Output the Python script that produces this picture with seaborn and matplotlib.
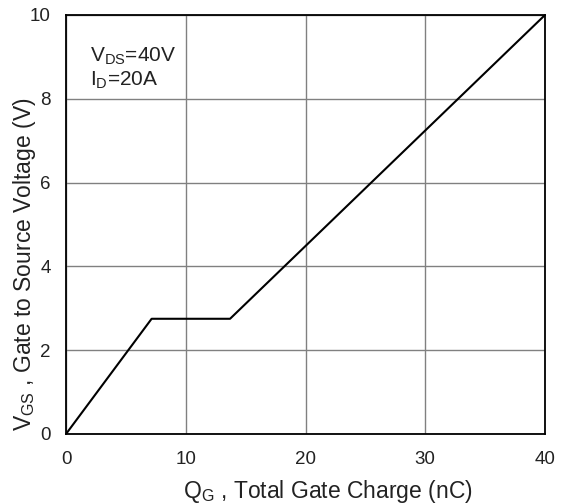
import matplotlib
matplotlib.use("Agg")
import matplotlib.pyplot as plt
import seaborn as sns
import pandas as pd

qg = [0, 7.15, 13.7, 40]
vgs = [0, 2.75, 2.75, 10]
xticks = [0, 10, 20, 30, 40]
yticks = [0, 2, 4, 6, 8, 10]

sns.set_theme(style="white")
plt.rcParams['font.family'] = ['Liberation Sans', 'DejaVu Sans']
plt.rcParams['mathtext.fontset'] = 'custom'
plt.rcParams['mathtext.rm'] = 'Liberation Sans'
plt.rcParams['mathtext.it'] = 'Liberation Sans'

fig = plt.figure(figsize=(5.66, 5.04), dpi=100)
ax = fig.add_axes([66/566, 70/504, 479/566, 419/504])

df = pd.DataFrame({"qg": qg, "vgs": vgs})
sns.lineplot(data=df, x="qg", y="vgs", ax=ax, color="black", lw=1.5, sort=False, estimator=None)

ax.set_xlim(0, 40)
ax.set_ylim(0, 10)
ax.set_xticks(xticks)
ax.set_yticks(yticks)
ax.set_xticklabels([str(t) for t in xticks], fontsize=13.5)
ax.set_yticklabels([str(t) for t in yticks], fontsize=13.5)
ax.tick_params(axis='x', length=0, pad=12, colors='#222222')
ax.tick_params(axis='y', length=0, pad=11, colors='#222222')
ax.grid(True, color='#808080', lw=1)
for s in ax.spines.values():
    s.set_color('black')
    s.set_linewidth(1.3)

ax.set_xlabel(r"$\mathregular{Q_G}$ , Total Gate Charge (nC)", fontsize=16.5, color='#222222')
ax.set_ylabel(r"$\mathregular{V_{GS}}$ , Gate to Source Voltage (V)", fontsize=16.5, color='#222222')
ax.xaxis.set_label_coords(0.547, -0.105)
ax.yaxis.set_label_coords(-0.058, 0.405)

ax.text(0.05, 0.927, r"$\mathregular{V_{DS}}$=40V" "\n" r"$\mathregular{I_D}$=20A",
        transform=ax.transAxes, fontsize=15, va='top', ha='left', color='#222222',
        linespacing=1.15)

fig.savefig("out.png", dpi=100)
